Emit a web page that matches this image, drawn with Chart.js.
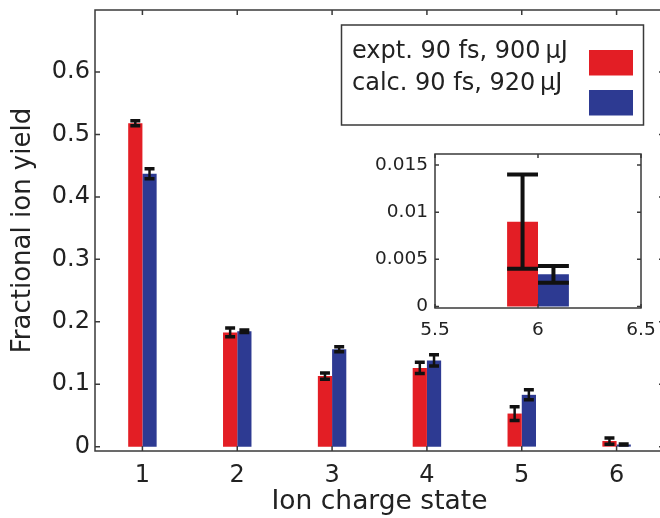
<!DOCTYPE html>
<html><head><meta charset="utf-8">
<script src="https://cdn.jsdelivr.net/npm/chart.js@4"></script>
<style>
html,body{margin:0;padding:0;background:#fff;overflow:hidden;width:660px;height:518px;}
#wrap{position:relative;width:660px;height:518px;overflow:hidden;background:#fff;}
#main{position:absolute;left:0;top:0;}
#inset{position:absolute;left:360px;top:140px;}
</style></head><body>
<div id="wrap">
<canvas id="main" width="670" height="518"></canvas>
<canvas id="inset" width="300" height="200"></canvas>
</div>
<script>
// ---- data ----
const categories = ['1', '2', '3', '4', '5', '6'];
const seriesNames = ['expt. 90 fs, 900\u2009\u03bcJ', 'calc. 90 fs, 920\u2009\u03bcJ'];
const exptYield = [0.518, 0.183, 0.113, 0.126, 0.053, 0.009];
const exptError = [0.004, 0.007, 0.005, 0.009, 0.011, 0.005];
const calcYield = [0.437, 0.185, 0.156, 0.138, 0.083, 0.0034];
const calcError = [0.008, 0.002, 0.004, 0.009, 0.008, 0.0009];
const yTickValues = [0, 0.1, 0.2, 0.3, 0.4, 0.5, 0.6];
const yTickLabels = ['0', '0.1', '0.2', '0.3', '0.4', '0.5', '0.6'];
const insetXTickValues = [5.5, 6, 6.5];
const insetXTickLabels = ['5.5', '6', '6.5'];
const insetYTickValues = [0, 0.005, 0.01, 0.015];
const insetYTickLabels = ['0', '0.005', '0.01', '0.015'];
const insetCategoryIndex = 5;

// ---- styles ----
const RED = '#e31e25';
const BLUE = '#2d3a92';
const TEXT = '#222222';
const FRAME = '#3a3a3a';
const FONT = "'DejaVu Sans', sans-serif";

// ---- plugins ----
const errorBarPlugin = {
  id: 'errorBars',
  afterDatasetsDraw(chart, args, o) {
    const ctx = chart.ctx;
    const yScale = chart.scales.y;
    chart.data.datasets.forEach((ds, i) => {
      const meta = chart.getDatasetMeta(i);
      meta.data.forEach((bar, j) => {
        const raw = ds.data[j];
        const v = (raw !== null && typeof raw === 'object') ? raw.y : raw;
        const e = ds.errors[j];
        if (v == null || e == null) return;
        const x = bar.x;
        const yt = yScale.getPixelForValue(v + e);
        const yb = yScale.getPixelForValue(v - e);
        const half = bar.width * o.capRatio / 2;
        ctx.save();
        ctx.strokeStyle = o.color;
        ctx.lineCap = 'butt';
        ctx.lineWidth = o.stemWidth;
        ctx.beginPath();
        ctx.moveTo(x, yt); ctx.lineTo(x, yb);
        ctx.stroke();
        ctx.lineWidth = o.capWidth;
        ctx.beginPath();
        ctx.moveTo(x - half, yt); ctx.lineTo(x + half, yt);
        ctx.moveTo(x - half, yb); ctx.lineTo(x + half, yb);
        ctx.stroke();
        ctx.restore();
      });
    });
  }
};

const framePlugin = {
  id: 'frame',
  afterDraw(chart, args, o) {
    const {ctx, chartArea: a, scales} = chart;
    ctx.save();
    ctx.strokeStyle = o.color;
    ctx.lineWidth = o.width;
    ctx.beginPath();
    scales.x.ticks.forEach((t, i) => {
      const px = scales.x.getPixelForTick(i);
      ctx.moveTo(px, a.bottom); ctx.lineTo(px, a.bottom - o.tick);
      ctx.moveTo(px, a.top); ctx.lineTo(px, a.top + o.tick);
    });
    scales.y.ticks.forEach((t, i) => {
      const py = scales.y.getPixelForTick(i);
      ctx.moveTo(a.left, py); ctx.lineTo(a.left + o.tick, py);
      ctx.moveTo(a.right, py); ctx.lineTo(a.right - o.tick, py);
    });
    ctx.stroke();
    ctx.strokeRect(a.left, a.top, a.right - a.left, a.bottom - a.top);
    ctx.restore();
  }
};

const boxLegendPlugin = {
  id: 'boxLegend',
  afterDraw(chart, args, o) {
    if (!o.show) return;
    const ctx = chart.ctx;
    ctx.save();
    ctx.fillStyle = '#fff';
    ctx.fillRect(o.x, o.y, o.w, o.h);
    ctx.strokeStyle = o.border;
    ctx.lineWidth = 1.5;
    ctx.strokeRect(o.x, o.y, o.w, o.h);
    ctx.font = o.font;
    ctx.textAlign = 'left';
    ctx.textBaseline = 'middle';
    chart.data.datasets.forEach((ds, i) => {
      ctx.fillStyle = o.textColor;
      ctx.fillText(ds.label, o.textX, o.textY[i]);
      ctx.fillStyle = ds.backgroundColor;
      ctx.fillRect(o.patchX, o.patchY[i], o.patchW, o.patchH);
    });
    ctx.restore();
  }
};

// ---- main chart ----
new Chart(document.getElementById('main'), {
  type: 'bar',
  data: {
    labels: categories,
    datasets: [
      {label: seriesNames[0], data: exptYield, errors: exptError, backgroundColor: RED, borderWidth: 0},
      {label: seriesNames[1], data: calcYield, errors: calcError, backgroundColor: BLUE, borderWidth: 0}
    ]
  },
  options: {
    responsive: false,
    animation: false,
    events: [],
    categoryPercentage: 0.3,
    barPercentage: 1.0,
    layout: {padding: {top: 10, right: 6, left: 0, bottom: 0}},
    scales: {
      x: {
        type: 'category',
        offset: true,
        grid: {display: false, drawTicks: false},
        border: {display: false},
        ticks: {color: TEXT, font: {family: FONT, size: 24}, padding: 10, maxRotation: 0, autoSkip: false},
        title: {display: true, text: 'Ion charge state', color: TEXT, font: {family: FONT, size: 26.5}, padding: {top: 0, bottom: 0}},
        afterFit(s) { s.height = 67; s.paddingLeft = 0; s.paddingRight = 0; }
      },
      y: {
        type: 'linear',
        min: -0.007,
        max: 0.6995,
        grid: {display: false, drawTicks: false},
        border: {display: false},
        afterBuildTicks(s) { s.ticks = yTickValues.map(v => ({value: v})); },
        ticks: {color: TEXT, font: {family: FONT, size: 24}, padding: 5, includeBounds: false,
                callback: (v, i) => yTickLabels[i]},
        title: {display: true, text: 'Fractional ion yield', color: TEXT, font: {family: FONT, size: 26}, padding: {top: 8, bottom: 0}},
        afterFit(s) { s.width = 95; s.paddingTop = 0; s.paddingBottom = 0; }
      }
    },
    plugins: {
      legend: {display: false},
      tooltip: {enabled: false},
      errorBars: {color: '#111', stemWidth: 2.5, capWidth: 3.5, capRatio: 0.7},
      frame: {color: FRAME, width: 1.5, tick: 5},
      boxLegend: {show: true, x: 341.5, y: 25, w: 302, h: 100, border: FRAME,
                  font: "24px 'DejaVu Sans', sans-serif", textColor: TEXT,
                  textX: 352, textY: [52, 84], patchX: 589, patchY: [50, 90], patchW: 44, patchH: 25.5}
    }
  },
  plugins: [errorBarPlugin, framePlugin, boxLegendPlugin]
});

// ---- inset chart ----
const insetX = parseFloat(categories[insetCategoryIndex]);
new Chart(document.getElementById('inset'), {
  type: 'bar',
  data: {
    datasets: [
      {label: seriesNames[0], data: [{x: insetX, y: exptYield[insetCategoryIndex]}], errors: [exptError[insetCategoryIndex]], backgroundColor: RED, borderWidth: 0},
      {label: seriesNames[1], data: [{x: insetX, y: calcYield[insetCategoryIndex]}], errors: [calcError[insetCategoryIndex]], backgroundColor: BLUE, borderWidth: 0}
    ]
  },
  options: {
    responsive: false,
    animation: false,
    events: [],
    categoryPercentage: 0.6,
    barPercentage: 1.0,
    layout: {padding: {top: 14, right: 19, left: 0, bottom: 0}},
    scales: {
      x: {
        type: 'linear',
        min: 5.5,
        max: 6.5,
        offset: false,
        grid: {display: false, drawTicks: false},
        border: {display: false},
        afterBuildTicks(s) { s.ticks = insetXTickValues.map(v => ({value: v})); },
        ticks: {color: TEXT, font: {family: FONT, size: 18.5}, padding: 11, maxRotation: 0, autoSkip: false,
                callback: (v, i) => insetXTickLabels[i]},
        afterFit(s) { s.height = 32; s.paddingLeft = 0; s.paddingRight = 0; }
      },
      y: {
        type: 'linear',
        min: -0.00017,
        max: 0.01618,
        grid: {display: false, drawTicks: false},
        border: {display: false},
        afterBuildTicks(s) { s.ticks = insetYTickValues.map(v => ({value: v})); },
        ticks: {color: TEXT, font: {family: FONT, size: 18.5}, padding: 7, includeBounds: false,
                callback: (v, i) => insetYTickLabels[i]},
        afterFit(s) { s.width = 75; s.paddingTop = 0; s.paddingBottom = 0; }
      }
    },
    plugins: {
      legend: {display: false},
      tooltip: {enabled: false},
      errorBars: {color: '#111', stemWidth: 4, capWidth: 4, capRatio: 1.0},
      frame: {color: FRAME, width: 1.5, tick: 4},
      boxLegend: {show: false}
    }
  },
  plugins: [errorBarPlugin, framePlugin, boxLegendPlugin]
});
</script>
</body></html>
